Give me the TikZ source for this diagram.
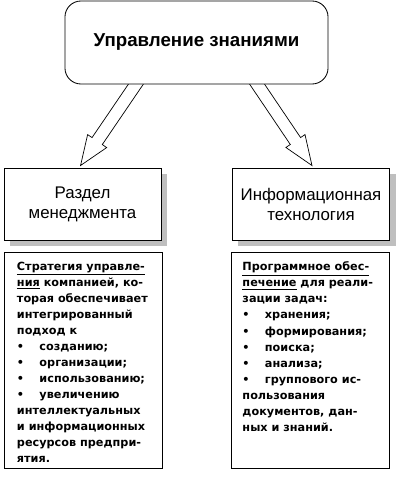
\documentclass[tikz,border=0pt]{standalone}
\usepackage{fontspec}
\setmainfont{Liberation Sans}
\newfontfamily\listfont{DejaVu Sans}
\usetikzlibrary{calc,shadows,backgrounds}

\begin{document}
\begin{tikzpicture}[x=0.025cm, y=-0.025cm, line width=0.6pt,
          topbox/.style={draw, fill=white, rounded corners=0.4cm, minimum width=6.575cm, minimum height=2.075cm, font=\fontsize{13.3}{15}\selectfont\bfseries},
          partbox/.style={draw, fill=white, minimum width=3.925cm, minimum height=1.8cm, align=center, font=\fontsize{12}{14.2}\selectfont,
            drop shadow={shadow xshift=0.15cm, shadow yshift=-0.15cm, fill=black!25, opacity=1}},
          listbox/.style={draw, minimum width=3.95cm, minimum height=5.4cm},
          listtext/.style={anchor=north west, inner sep=0pt, align=left, font=\listfont\bfseries\fontsize{8}{11.4}\selectfont},
          hollow/.style={draw, fill=white, line width=0.5pt}]
        \useasboundingbox (0,0) rectangle (400,477);
        \node[topbox] (km) at (196.5,42.5) {Управление знаниями};
        \node[partbox] (mgmt) at (82.5,204) {Раздел\\менеджмента};
        \node[partbox] (it) at (311,204) {Информационная\\технология};
        \node[listbox] (strat) at (83,360) {};
        \node[listbox] (soft) at (310.5,360) {};
        \node[listtext] (strattxt) at ($(strat.north west)+(13,10)$) {\underline{Стратегия управле-}\\
          \underline{ния} компанией, ко-\\ торая обеспечивает\\ интегрированный\\ подход к\\
          \makebox[16pt][l]{•}созданию;\\ \makebox[16pt][l]{•}организации;\\
          \makebox[16pt][l]{•}использованию;\\ \makebox[16pt][l]{•}увеличению\\
          интеллектуальных\\ и информационных\\ ресурсов предпри-\\ ятия.};
        \node[listtext] (softtxt) at ($(soft.north west)+(11,10)$) {\underline{Программное обес-}\\
          \underline{печение} для реали-\\ зации задач:\\
          \makebox[16pt][l]{•}хранения;\\ \makebox[16pt][l]{•}формирования;\\
          \makebox[16pt][l]{•}поиска;\\ \makebox[16pt][l]{•}анализа;\\
          \makebox[16pt][l]{•}группового ис-\\ пользования\\ документов, дан-\\ ных и знаний.};
        % hollow arrows, tails hidden under the top box
        \coordinate (s1) at ($(km.south)+(-54,-10)$);
        \coordinate (e1) at ($(mgmt.north)+(-2,-2)$);
        \coordinate (s2) at ($(km.south)+(54,-10)$);
        \coordinate (e2) at ($(it.north)+(1,-2)$);
        \begin{scope}[on background layer]
          \draw[hollow] let \p1=($(e1)-(s1)$), \n1={atan2(\y1,\x1)}, \n2={veclen(\x1,\y1)} in
            [shift={(s1)}, rotate=\n1] (0pt,-4.4pt) -- (\n2-21pt,-4.4pt) -- (\n2-21pt,-8.2pt) -- (\n2,0pt)
            -- (\n2-21pt,8.2pt) -- (\n2-21pt,4.4pt) -- (0pt,4.4pt) -- cycle;
          \draw[hollow] let \p1=($(e2)-(s2)$), \n1={atan2(\y1,\x1)}, \n2={veclen(\x1,\y1)} in
            [shift={(s2)}, rotate=\n1] (0pt,-4.4pt) -- (\n2-21pt,-4.4pt) -- (\n2-21pt,-8.2pt) -- (\n2,0pt)
            -- (\n2-21pt,8.2pt) -- (\n2-21pt,4.4pt) -- (0pt,4.4pt) -- cycle;
        \end{scope}
      \end{tikzpicture}
\end{document}
